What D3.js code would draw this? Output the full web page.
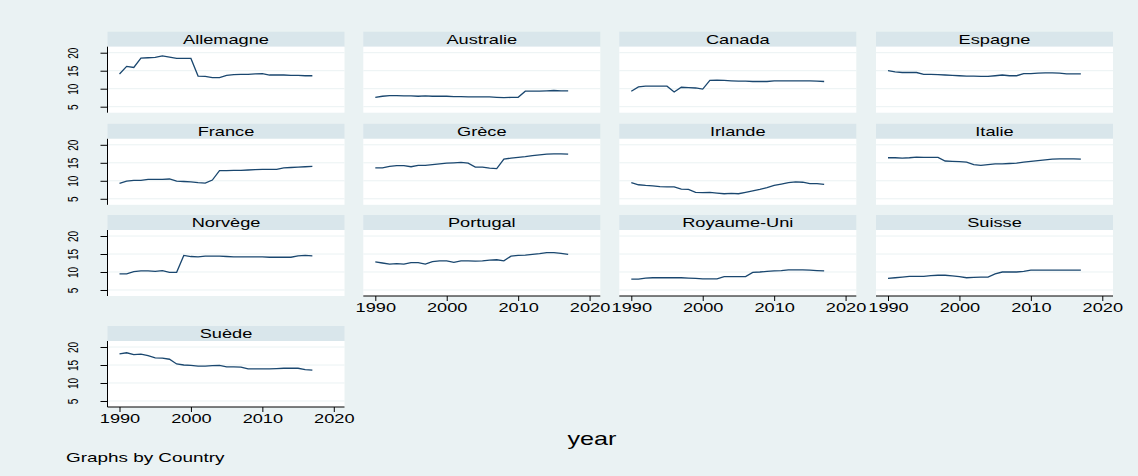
<!DOCTYPE html>
<html>
<head>
<meta charset="utf-8">
<script src="https://cdn.jsdelivr.net/npm/d3@7"></script>
<style>
    body { margin: 0; background: #fff; }
    svg { display: block; font-family: "Liberation Sans", Arial, sans-serif; }
</style>
</head>
<body>
<div id="chart"></div>
<script>
"use strict";

// data
const years = [1990, 1991, 1992, 1993, 1994, 1995, 1996, 1997, 1998, 1999,
    2000, 2001, 2002, 2003, 2004, 2005, 2006, 2007, 2008, 2009,
    2010, 2011, 2012, 2013, 2014, 2015, 2016, 2017];
const countries = ['Allemagne', 'Australie', 'Canada', 'Espagne', 'France', 'Grèce', 'Irlande',
    'Italie', 'Norvège', 'Portugal', 'Royaume-Uni', 'Suisse', 'Suède'];
const xTicks = [1990, 2000, 2010, 2020];
const yTicks = [5, 10, 15, 20];

const allemagne = [14.1, 16.2, 15.9, 18.5, 18.6, 18.7, 19.1, 18.8, 18.4, 18.4, 18.4, 13.5, 13.4, 13.1,
    13.1, 13.7, 13.9, 14.0, 14.0, 14.1, 14.2, 13.8, 13.8, 13.8, 13.7, 13.7, 13.6, 13.6];
const australie = [7.6, 7.9, 8.1, 8.1, 8.0, 8.0, 7.9, 8.0, 7.9, 7.9, 7.9, 7.8, 7.8, 7.7,
    7.7, 7.7, 7.7, 7.6, 7.5, 7.6, 7.6, 9.3, 9.3, 9.3, 9.4, 9.5, 9.4, 9.4];
const canada = [9.3, 10.5, 10.7, 10.7, 10.7, 10.7, 9.1, 10.4, 10.3, 10.2, 9.9, 12.3, 12.4, 12.3,
    12.2, 12.1, 12.1, 12.0, 12.0, 12.0, 12.2, 12.2, 12.2, 12.2, 12.2, 12.2, 12.1, 12.0];
const espagne = [15.0, 14.7, 14.5, 14.5, 14.5, 14.0, 14.0, 13.9, 13.8, 13.7, 13.6, 13.5, 13.5, 13.4,
    13.4, 13.6, 13.8, 13.6, 13.6, 14.2, 14.2, 14.3, 14.4, 14.4, 14.3, 14.1, 14.1, 14.1];
const france = [9.3, 9.9, 10.1, 10.1, 10.4, 10.4, 10.4, 10.5, 9.9, 9.8, 9.7, 9.5, 9.35, 10.2,
    12.8, 12.8, 12.9, 12.9, 13.0, 13.1, 13.2, 13.2, 13.2, 13.6, 13.7, 13.8, 13.9, 14.0];
const grece = [13.6, 13.6, 14.0, 14.2, 14.2, 13.9, 14.3, 14.3, 14.5, 14.7, 14.9, 15.0, 15.1, 14.9,
    13.8, 13.8, 13.5, 13.4, 16.0, 16.3, 16.5, 16.7, 17.0, 17.2, 17.4, 17.5, 17.5, 17.4];
const irlande = [9.5, 8.9, 8.7, 8.6, 8.4, 8.3, 8.3, 7.7, 7.6, 6.8, 6.7, 6.8, 6.6, 6.4,
    6.5, 6.4, 6.8, 7.2, 7.6, 8.1, 8.7, 9.1, 9.5, 9.7, 9.6, 9.2, 9.2, 9.0];
const italie = [16.4, 16.4, 16.3, 16.4, 16.6, 16.5, 16.5, 16.5, 15.5, 15.4, 15.3, 15.2, 14.5, 14.3,
    14.5, 14.7, 14.7, 14.8, 14.9, 15.2, 15.4, 15.6, 15.8, 16.0, 16.1, 16.1, 16.1, 16.0];
const norvege = [9.5, 9.5, 10.1, 10.3, 10.3, 10.2, 10.4, 9.9, 9.9, 14.6, 14.3, 14.2, 14.4, 14.4,
    14.4, 14.3, 14.2, 14.2, 14.2, 14.2, 14.2, 14.1, 14.1, 14.1, 14.1, 14.5, 14.6, 14.5];
const portugal = [12.8, 12.5, 12.2, 12.3, 12.2, 12.6, 12.6, 12.2, 12.9, 13.1, 13.1, 12.7, 13.1, 13.1,
    13.0, 13.1, 13.3, 13.4, 13.1, 14.4, 14.6, 14.7, 14.9, 15.1, 15.4, 15.4, 15.2, 14.9];
const royaumeUni = [8.0, 8.0, 8.3, 8.4, 8.4, 8.4, 8.4, 8.4, 8.3, 8.2, 8.1, 8.1, 8.1, 8.7,
    8.7, 8.7, 8.7, 9.9, 10.0, 10.2, 10.3, 10.4, 10.6, 10.6, 10.6, 10.5, 10.4, 10.3];
const suisse = [8.2, 8.4, 8.6, 8.8, 8.8, 8.8, 9.0, 9.1, 9.1, 8.9, 8.7, 8.4, 8.5, 8.6,
    8.6, 9.5, 10.0, 10.0, 10.0, 10.2, 10.5, 10.5, 10.5, 10.5, 10.5, 10.5, 10.5, 10.5];
const suede = [18.1, 18.4, 17.9, 18.0, 17.6, 17.0, 16.9, 16.6, 15.3, 15.0, 14.9, 14.7, 14.7, 14.8,
    14.9, 14.5, 14.5, 14.4, 13.9, 13.9, 13.9, 13.9, 14.0, 14.1, 14.1, 14.1, 13.7, 13.6];

const series = [allemagne, australie, canada, espagne, france, grece, irlande,
    italie, norvege, portugal, royaumeUni, suisse, suede];

// layout
const W = 1138, H = 476;
const panelW = 237, stripH = 15, plotH = 66;
const colLeft = [107.5, 363.3, 619.3, 876];
const rowTop = [31.7, 123.8, 215, 326];
const lineColor = '#1a476f';
const wide = 1.4;   // text in the picture is stretched sideways

const x = d3.scaleLinear().domain([1988.32, 2021.5]).range([0, panelW]);
const y = d3.scaleLinear().domain([3.33, 21.67]).range([plotH, 0]);

const svg = d3.select('#chart').append('svg')
    .attr('width', W)
    .attr('height', H);

svg.append('rect')
    .attr('width', W)
    .attr('height', H)
    .attr('fill', '#eaf2f3');

countries.forEach((name, i) => {
    let col = i % 4, row = Math.floor(i / 4);
    let g = svg.append('g')
        .attr('transform', `translate(${colLeft[col]},${rowTop[row]})`);

    // strip
    g.append('rect')
        .attr('width', panelW)
        .attr('height', stripH)
        .attr('fill', '#d9e6eb');
    g.append('text')
        .attr('transform', `translate(${panelW / 2},${stripH / 2 + 4.6}) scale(${wide},1)`)
        .attr('text-anchor', 'middle')
        .attr('font-size', 13)
        .attr('fill', '#000')
        .text(name);

    let p = g.append('g').attr('transform', `translate(0,${stripH})`);
    p.append('rect')
        .attr('width', panelW)
        .attr('height', plotH)
        .attr('fill', '#fff');

    // grid
    p.selectAll('.grid').data(yTicks).join('line')
        .attr('x1', 0).attr('x2', panelW)
        .attr('y1', d => y(d)).attr('y2', d => y(d))
        .attr('stroke', '#eaf2f3')
        .attr('stroke-width', 1);

    // y axis only on first column
    if (col === 0) {
        let ya = p.append('g').call(d3.axisLeft(y).tickValues(yTicks).tickSize(7).tickSizeOuter(0));
        ya.select('.domain').remove();
        ya.append('line')
            .attr('y1', 0).attr('y2', plotH)
            .attr('stroke', '#000');
        ya.selectAll('.tick line').attr('stroke', '#000');
        ya.selectAll('.tick text')
            .attr('font-size', 10)
            .attr('font-family', '"Liberation Sans", Arial, sans-serif')
            .attr('fill', '#000')
            .attr('x', 0).attr('y', 0)
            .attr('dy', '0.36em')
            .attr('text-anchor', 'middle')
            .attr('transform', `translate(-35,0) scale(${wide},1) rotate(-90)`);
    }

    // x axis where nothing sits below
    let below = i + 4 >= countries.length;
    if (below) {
        let xa = p.append('g')
            .attr('transform', `translate(0,${plotH})`)
            .call(d3.axisBottom(x).tickValues(xTicks).tickFormat(d3.format('d')).tickSize(5).tickSizeOuter(0));
        xa.select('.domain').remove();
        xa.append('line')
            .attr('x1', 0).attr('x2', panelW)
            .attr('stroke', '#000');
        xa.selectAll('.tick line').attr('stroke', '#000');
        xa.selectAll('.tick text')
            .attr('font-size', 13)
            .attr('font-family', '"Liberation Sans", Arial, sans-serif')
            .attr('fill', '#000')
            .attr('y', 7)
            .attr('transform', `scale(${wide},1)`);
    }

    let line = d3.line()
        .x((d, j) => x(years[j]))
        .y(d => y(d));
    p.append('path')
        .datum(series[i])
        .attr('d', line)
        .attr('fill', 'none')
        .attr('stroke', lineColor)
        .attr('stroke-width', 1.3);
});

// titles
svg.append('text')
    .attr('transform', `translate(592,445) scale(${wide},1)`)
    .attr('text-anchor', 'middle')
    .attr('font-size', 18)
    .attr('fill', '#000')
    .text('year');

svg.append('text')
    .attr('transform', `translate(66,462) scale(${wide},1)`)
    .attr('font-size', 13.5)
    .attr('fill', '#000')
    .text('Graphs by Country');
</script>
</body>
</html>
